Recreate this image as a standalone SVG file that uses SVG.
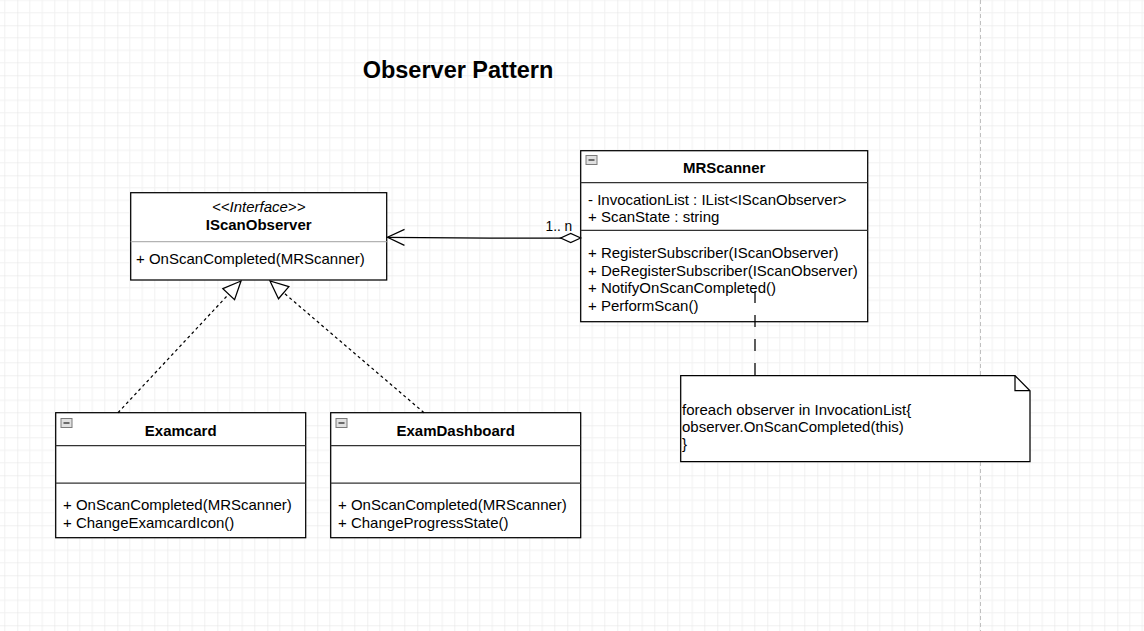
<svg xmlns="http://www.w3.org/2000/svg" width="1144" height="631" viewBox="0 0 1144 631">
  <style>
    text { font-family: "Liberation Sans", Arial, sans-serif; font-size: 15px; fill: #000; }
    .bold { font-weight: bold; }
    .ital { font-style: italic; }
    .mid { text-anchor: middle; }
    .box { fill: #fff; stroke: #000; stroke-width: 1.25; }
    .div { stroke: #333; stroke-width: 1.25; fill: none; }
    .divlight { stroke: #b3b3b3; stroke-width: 1.25; fill: none; }
    .icon { fill: #e0e0e0; stroke: #7a7a7a; stroke-width: 1; }
    .iconbar { stroke: #444; stroke-width: 1.5; }
    .real { stroke: #000; stroke-width: 1.25; stroke-dasharray: 3 3; fill: none; marker-end: url(#tri); }
    .assoc { stroke: #000; stroke-width: 1.25; fill: none; marker-end: url(#openArrow); marker-start: url(#diamond); }
    .noteLink { stroke: #000; stroke-width: 1.25; stroke-dasharray: 12 12; fill: none; }
  </style>
  <defs>
    <pattern id="grid" patternUnits="userSpaceOnUse" x="17.3" y="25.3" width="50" height="50">
      <path d="M12.5,0 V50 M25,0 V50 M37.5,0 V50 M0,12.5 H50 M0,25 H50 M0,37.5 H50" stroke="#f1f1f1" stroke-width="1" fill="none"/>
      <path d="M0,0 V50 M0,0 H50" stroke="#e2e2e2" stroke-width="1" fill="none"/>
    </pattern>
    <marker id="tri" markerUnits="userSpaceOnUse" markerWidth="20" markerHeight="18" viewBox="-1 -1 20 18" refX="18" refY="8" orient="auto" overflow="visible">
      <path d="M0,0 L18,8 L0,16 Z" fill="#fff" stroke="#000" stroke-width="1.25"/>
    </marker>
    <marker id="openArrow" markerUnits="userSpaceOnUse" markerWidth="20" markerHeight="18" viewBox="-1 -1 20 18" refX="17" refY="8" orient="auto" overflow="visible">
      <path d="M0,0 L17,8 L0,16" fill="none" stroke="#000" stroke-width="1.25"/>
    </marker>
    <marker id="diamond" markerUnits="userSpaceOnUse" markerWidth="22" markerHeight="11" viewBox="-1 -1 22 11" refX="0" refY="4.5" orient="auto" overflow="visible">
      <path d="M0,4.5 L10,0 L20,4.5 L10,9 Z" fill="#fff" stroke="#000" stroke-width="1.25"/>
    </marker>
  </defs>

  <rect width="1144" height="631" fill="#fff"/>
  <rect width="1144" height="631" fill="url(#grid)"/>
  <line x1="980.5" y1="0" x2="980.5" y2="631" stroke="#c0c0c0" stroke-width="1" stroke-dasharray="4 3"/>

  <text id="title" x="458" y="78" class="bold mid" style="font-size:23.5px">Observer Pattern</text>

  <g id="IScanObserver">
    <rect class="box" x="130.7" y="192.7" width="256" height="87.3"/>
    <line class="divlight" x1="130.7" y1="241.7" x2="386.7" y2="241.7"/>
    <text x="258.7" y="212" class="ital mid">&lt;&lt;Interface&gt;&gt;</text>
    <text x="258.7" y="230" class="bold mid">IScanObserver</text>
    <text x="136" y="264">+ OnScanCompleted(MRScanner)</text>
  </g>

  <g id="MRScanner">
    <rect class="box" x="580.7" y="150.7" width="287" height="171"/>
    <line class="div" x1="580.7" y1="182.7" x2="867.7" y2="182.7"/>
    <line class="div" x1="580.7" y1="230.3" x2="867.7" y2="230.3"/>
    <rect class="icon" x="586" y="155.5" width="11" height="9"/>
    <line class="iconbar" x1="588.5" y1="160" x2="594.5" y2="160"/>
    <text x="724.2" y="173" class="bold mid">MRScanner</text>
    <text x="588" y="204.5">- InvocationList : IList&lt;IScanObserver&gt;</text>
    <text x="588" y="222">+ ScanState : string</text>
    <text x="588" y="258">+ RegisterSubscriber(IScanObserver)</text>
    <text x="588" y="275.5">+ DeRegisterSubscriber(IScanObserver)</text>
    <text x="588" y="293">+ NotifyOnScanCompleted()</text>
    <text x="588" y="310.5">+ PerformScan()</text>
  </g>

  <g id="Examcard">
    <rect class="box" x="55.7" y="412.7" width="250" height="125"/>
    <line class="div" x1="55.7" y1="445.7" x2="305.7" y2="445.7"/>
    <line class="div" x1="55.7" y1="483" x2="305.7" y2="483"/>
    <rect class="icon" x="61" y="418.5" width="11" height="9"/>
    <line class="iconbar" x1="63.5" y1="423" x2="69.5" y2="423"/>
    <text x="180.7" y="435.5" class="bold mid">Examcard</text>
    <text x="63" y="510">+ OnScanCompleted(MRScanner)</text>
    <text x="63" y="528">+ ChangeExamcardIcon()</text>
  </g>

  <g id="ExamDashboard">
    <rect class="box" x="330.7" y="412.7" width="250" height="125"/>
    <line class="div" x1="330.7" y1="445.7" x2="580.7" y2="445.7"/>
    <line class="div" x1="330.7" y1="483" x2="580.7" y2="483"/>
    <rect class="icon" x="336" y="418.5" width="11" height="9"/>
    <line class="iconbar" x1="338.5" y1="423" x2="344.5" y2="423"/>
    <text x="455.7" y="435.5" class="bold mid">ExamDashboard</text>
    <text x="338" y="510">+ OnScanCompleted(MRScanner)</text>
    <text x="338" y="528">+ ChangeProgressState()</text>
  </g>

  <g id="note">
    <path class="box" d="M680.7,375.7 H1015 L1030,390.7 V461.7 H680.7 Z"/>
    <path d="M1015,375.7 V390.7 H1030" fill="none" stroke="#000" stroke-width="1.25"/>
    <text x="682" y="415">foreach observer in InvocationList{</text>
    <text x="682" y="432">observer.OnScanCompleted(this)</text>
    <text x="682" y="449">}</text>
  </g>

  <g id="connectors">
    <path class="real" d="M118,412.7 L241,281"/>
    <path class="real" d="M424,412.7 L270,281"/>
    <path class="assoc" d="M580.7,238 L490,238 L387.5,237.3"/>
    <text x="545.5" y="231" style="font-size:13.75px">1.. n</text>
    <path class="noteLink" d="M755,375 V291"/>
  </g>
</svg>
